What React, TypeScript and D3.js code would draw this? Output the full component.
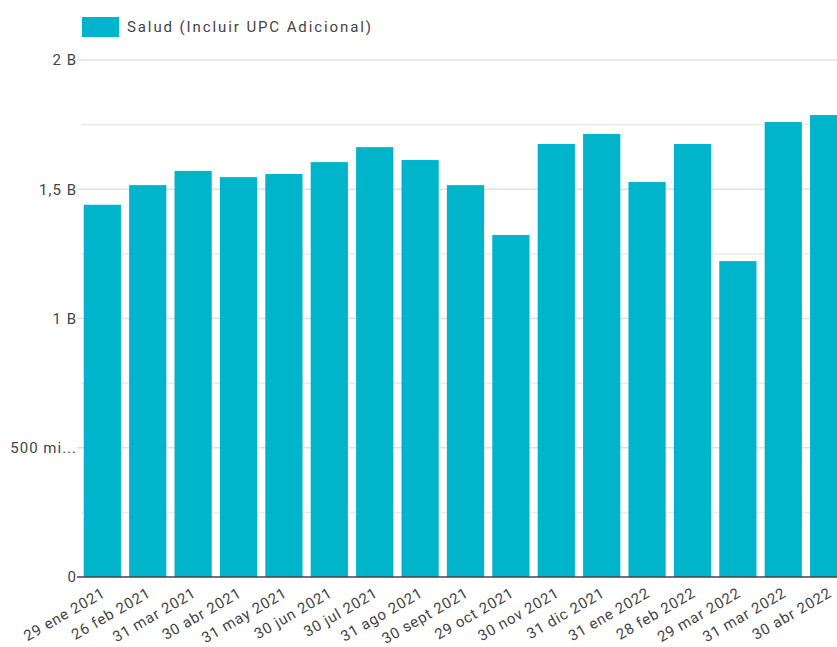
import { useEffect, useRef } from 'react';
import * as d3 from 'd3';

const dates = [
  '29 ene 2021', '26 feb 2021', '31 mar 2021', '30 abr 2021', '31 may 2021',
  '30 jun 2021', '30 jul 2021', '31 ago 2021', '30 sept 2021', '29 oct 2021',
  '30 nov 2021', '31 dic 2021', '31 ene 2022', '28 feb 2022', '29 mar 2022',
  '31 mar 2022', '30 abr 2022',
];
const salud = [
  1.44e9, 1.516e9, 1.571e9, 1.547e9, 1.559e9, 1.605e9, 1.663e9, 1.613e9, 1.516e9,
  1.323e9, 1.675e9, 1.714e9, 1.528e9, 1.675e9, 1.222e9, 1.76e9, 1.787e9,
];
const majorTicks = [0, 0.5e9, 1e9, 1.5e9, 2e9];
const majorLabels = ['0', '500 mi...', '1 B', '1,5 B', '2 B'];
const minorTicks = [0.25e9, 0.75e9, 1.25e9, 1.75e9];
const seriesName = 'Salud (Incluir UPC Adicional)';

const App = () => {
  const svgRef = useRef<SVGSVGElement>(null);

  useEffect(() => {
    const width = 837;
    const height = 647;
    const margin = { top: 60, left: 81, bottom: 577 };
    const plotRight = 850; // chart runs past the visible edge
    const color = '#00b5cb';
    const font = 'Roboto, "Noto Sans", sans-serif';

    const svg = d3.select(svgRef.current);
    svg.selectAll('*').remove();
    svg.attr('width', width).attr('height', height);

    const x = d3.scaleBand<string>()
      .domain(dates)
      .range([margin.left, plotRight])
      .paddingInner(0.18)
      .paddingOuter(0.06);

    const y = d3.scaleLinear()
      .domain([0, 2e9])
      .range([margin.bottom, margin.top]);

    // gridlines
    svg.append('g')
      .selectAll('line')
      .data(minorTicks)
      .join('line')
      .attr('x1', margin.left)
      .attr('x2', width)
      .attr('y1', d => y(d))
      .attr('y2', d => y(d))
      .attr('stroke', '#ebebeb')
      .attr('stroke-width', 1.5);

    svg.append('g')
      .selectAll('line')
      .data(majorTicks.filter(d => d > 0))
      .join('line')
      .attr('x1', margin.left - 4)
      .attr('x2', width)
      .attr('y1', d => y(d))
      .attr('y2', d => y(d))
      .attr('stroke', '#e0e0e0')
      .attr('stroke-width', 1.5);

    // bars
    svg.append('g')
      .selectAll('rect')
      .data(salud)
      .join('rect')
      .attr('x', (_, i) => x(dates[i]) as number)
      .attr('y', d => y(d))
      .attr('width', x.bandwidth())
      .attr('height', d => y(0) - y(d))
      .attr('fill', color);

    // baseline
    svg.append('line')
      .attr('x1', margin.left - 4)
      .attr('x2', width)
      .attr('y1', y(0))
      .attr('y2', y(0))
      .attr('stroke', '#444')
      .attr('stroke-width', 1.3);

    // y labels
    svg.append('g')
      .selectAll('text')
      .data(majorTicks)
      .join('text')
      .attr('x', margin.left - 4)
      .attr('y', d => y(d))
      .attr('dy', '0.35em')
      .attr('text-anchor', 'end')
      .attr('font-family', font)
      .attr('font-size', 15)
      .attr('letter-spacing', 1)
      .attr('fill', '#444')
      .text((_, i) => majorLabels[i]);

    // x labels
    svg.append('g')
      .selectAll('text')
      .data(dates)
      .join('text')
      .attr('transform', d => `translate(${(x(d) as number) + x.bandwidth() / 2 + 4},${y(0) + 19}) rotate(-30)`)
      .attr('text-anchor', 'end')
      .attr('font-family', font)
      .attr('font-size', 15)
      .attr('letter-spacing', 0.8)
      .attr('fill', '#444')
      .text(d => d);

    // legend
    svg.append('rect')
      .attr('x', 82)
      .attr('y', 17)
      .attr('width', 37)
      .attr('height', 20)
      .attr('fill', color);

    svg.append('text')
      .attr('x', 127)
      .attr('y', 32)
      .attr('font-family', font)
      .attr('font-size', 15)
      .attr('letter-spacing', 1.9)
      .attr('fill', '#444')
      .text(seriesName);
  }, []);

  return (
    <svg ref={svgRef} style={{ position: 'absolute', left: 0, top: 0 }}></svg>
  );
};

export default App;
